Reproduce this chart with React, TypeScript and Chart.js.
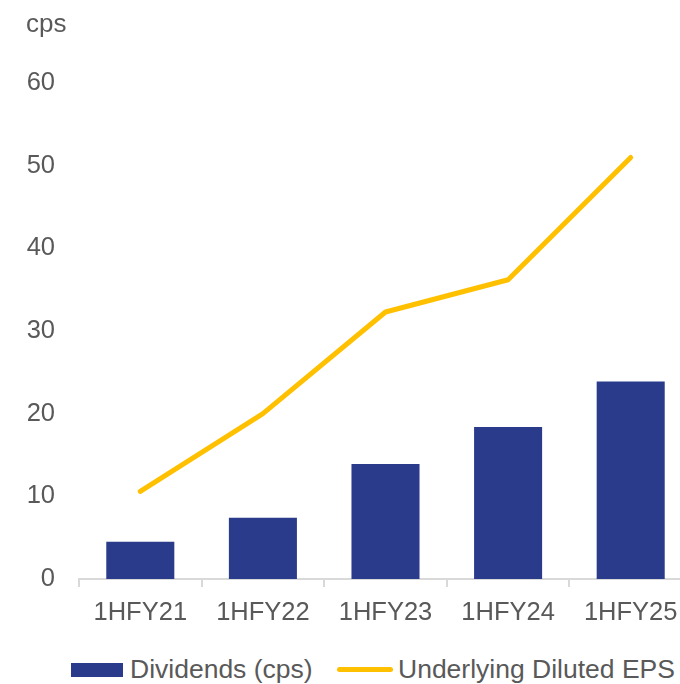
import React, { useEffect, useRef } from "react";
import { Chart, registerables } from "chart.js";

Chart.register(...registerables);

const categories = ["1HFY21", "1HFY22", "1HFY23", "1HFY24", "1HFY25"];
const dividends = [4.5, 7.4, 13.9, 18.4, 23.9];
const eps = [10.6, 20.0, 32.3, 36.2, 51.0];
const yTicks = [0, 10, 20, 30, 40, 50, 60];

const BAR_COLOR = "#293B8A";
const LINE_COLOR = "#FFC000";
const TEXT_COLOR = "#595959";
const FONT = '"Liberation Sans", Arial, sans-serif';

export default function App() {
  const ref = useRef<HTMLCanvasElement | null>(null);

  useEffect(() => {
    if (!ref.current) return;
    const chart = new Chart(ref.current, {
      type: "bar",
      data: {
        labels: categories,
        datasets: [
          {
            type: "line",
            label: "Underlying Diluted EPS",
            data: eps,
            borderColor: LINE_COLOR,
            backgroundColor: LINE_COLOR,
            borderWidth: 5,
            pointRadius: 0,
            tension: 0,
            borderCapStyle: "round",
            borderJoinStyle: "round",
            order: 0,
          } as any,
          {
            type: "bar",
            label: "Dividends (cps)",
            data: dividends,
            backgroundColor: BAR_COLOR,
            borderWidth: 0,
            barPercentage: 0.555,
            categoryPercentage: 1,
            order: 1,
          },
        ],
      },
      options: {
        responsive: false,
        animation: false,
        layout: { padding: { top: 83, left: 0, right: 0, bottom: 0 } },
        plugins: {
          legend: { display: false },
          tooltip: { enabled: false },
        },
        scales: {
          x: {
            grid: {
              display: true,
              offset: true,
              drawOnChartArea: false,
              drawTicks: true,
              tickLength: 8,
              color: "#D9D9D9",
              lineWidth: 2,
            },
            border: { display: true, color: "#D9D9D9", width: 2 },
            ticks: {
              color: TEXT_COLOR,
              font: { family: FONT, size: 25.5 },
              padding: 11,
              maxRotation: 0,
            },
            afterFit: (scale: any) => {
              scale.height = 61;
            },
          },
          y: {
            min: 0,
            max: 60,
            afterBuildTicks: (scale: any) => {
              scale.ticks = yTicks.map((v) => ({ value: v }));
            },
            grid: { display: false, drawTicks: false },
            border: { display: false },
            ticks: {
              color: TEXT_COLOR,
              font: { family: FONT, size: 25.5 },
              padding: 24,
            },
            afterFit: (scale: any) => {
              scale.width = 79;
            },
          },
        },
      },
    });
    return () => chart.destroy();
  }, []);

  return (
    <div
      style={{
        position: "fixed",
        left: 0,
        top: 0,
        width: 680,
        height: 684,
        overflow: "hidden",
        background: "#fff",
        fontFamily: FONT,
        color: TEXT_COLOR,
      }}
    >
      <canvas
        ref={ref}
        width={692}
        height={640}
        style={{ position: "absolute", left: 0, top: 0, width: 692, height: 640 }}
      />
      <div
        style={{
          position: "absolute",
          left: 26,
          top: 10,
          fontSize: 26,
          lineHeight: "26px",
          whiteSpace: "nowrap",
        }}
      >
        cps
      </div>
      <div
        style={{
          position: "absolute",
          left: 71,
          top: 663,
          width: 52,
          height: 14,
          background: BAR_COLOR,
        }}
      />
      <div
        style={{
          position: "absolute",
          left: 130,
          top: 656,
          fontSize: 26.5,
          lineHeight: "26px",
          whiteSpace: "nowrap",
        }}
      >
        Dividends (cps)
      </div>
      <div
        style={{
          position: "absolute",
          left: 337,
          top: 667,
          width: 56,
          height: 5,
          borderRadius: 2.5,
          background: LINE_COLOR,
        }}
      />
      <div
        style={{
          position: "absolute",
          left: 398,
          top: 656,
          fontSize: 26.5,
          lineHeight: "26px",
          whiteSpace: "nowrap",
        }}
      >
        Underlying Diluted EPS
      </div>
    </div>
  );
}
